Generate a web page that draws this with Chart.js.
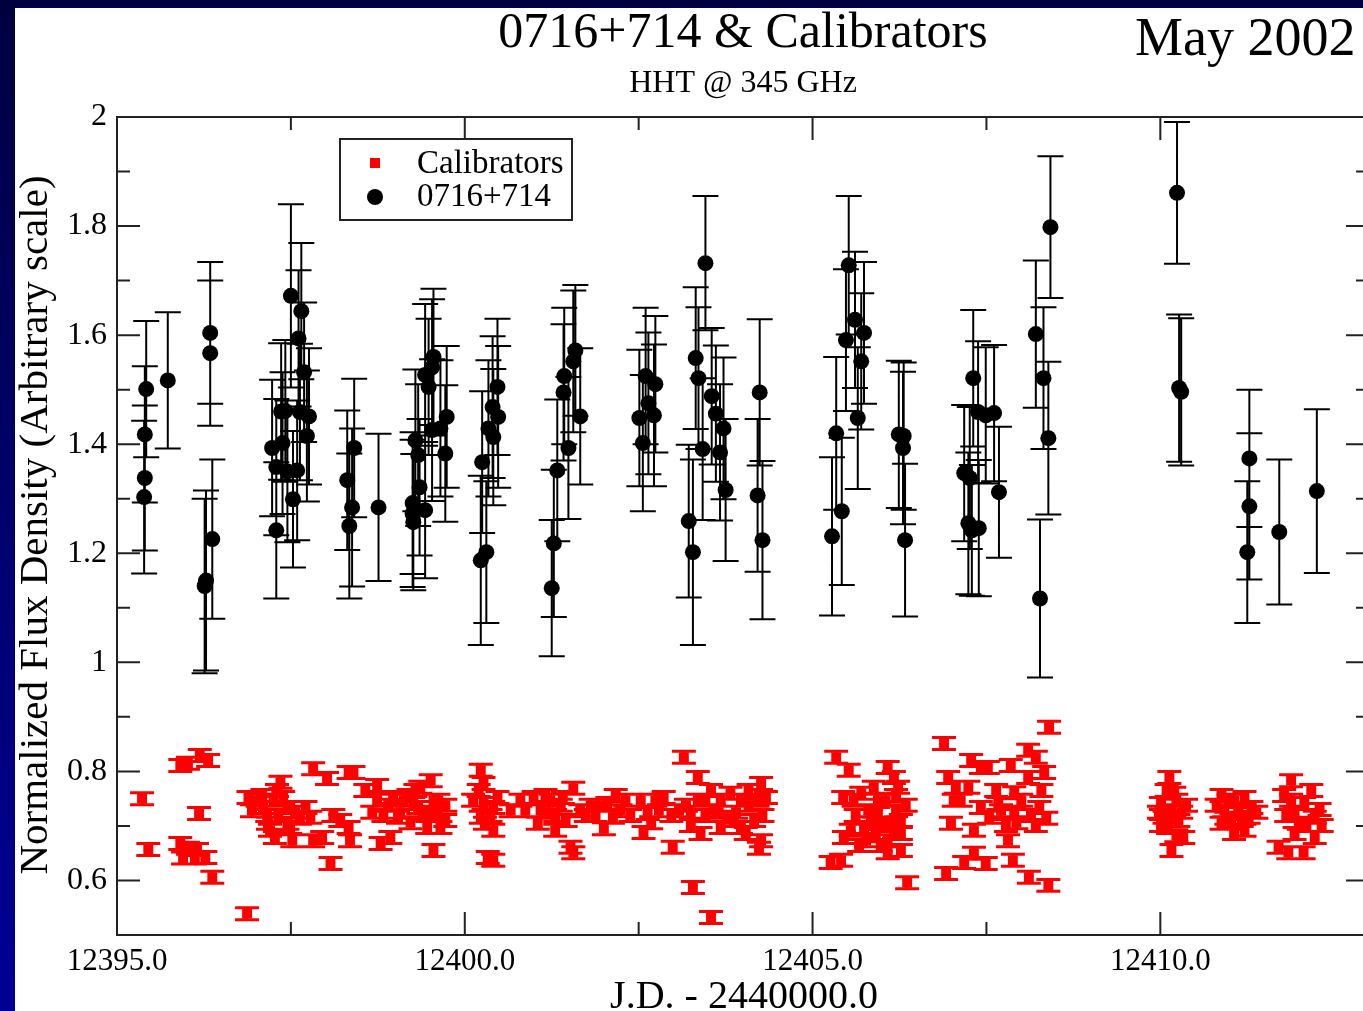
<!DOCTYPE html>
<html>
<head>
<meta charset="utf-8">
<title>0716+714 & Calibrators</title>
<script src="https://cdn.jsdelivr.net/npm/chart.js@4.4.1/dist/chart.umd.min.js"></script>
<style>
    html, body { margin: 0; padding: 0; width: 1363px; height: 1011px; overflow: hidden; }
    body { background: linear-gradient(180deg, #000040 0%, #000096 100%); position: relative; }
    #papel { position: absolute; left: 15px; top: 8px; width: 1360px; height: 1010px; background: #fff; }
    #caixa { position: absolute; left: 0; top: 0; width: 1377px; height: 1011px; }
</style>
</head>
<body>
<div id="papel"></div>
<div id="caixa"><canvas id="grafico" width="1377" height="1011"></canvas></div>
<script>
// 0716+714 : J.D. - 2440000.0, fluxo normalizado e erro
const fonteJD = [
    12395.42, 12395.40, 12395.40, 12395.39, 12395.73,
    12396.34, 12396.34, 12396.28, 12396.26, 12396.37,
    12397.50, 12397.65, 12397.61, 12397.69, 12397.36, 12397.42, 12397.63, 12397.76, 12397.73, 12397.23, 12397.38, 12397.29, 12397.45, 12397.59, 12397.53, 12397.29,
    12398.31, 12398.41, 12398.38, 12398.34, 12398.76,
    12399.55, 12399.53, 12399.43, 12399.48, 12399.74, 12399.65, 12399.53, 12399.29, 12399.72, 12399.33, 12399.35, 12399.25, 12399.43, 12399.25, 12399.26,
    12400.47, 12400.40, 12400.48, 12400.34, 12400.41, 12400.25, 12400.23, 12400.31,
    12401.25, 12401.28, 12401.33, 12401.42, 12401.43, 12401.56, 12401.59, 12401.66, 12401.49,
    12402.60, 12402.74, 12402.64, 12402.51, 12402.72, 12402.56,
    12403.46, 12403.32, 12403.36, 12403.55, 12403.61, 12403.72, 12403.42, 12403.67, 12403.75, 12403.22, 12403.28,
    12404.24, 12404.21, 12404.28,
    12405.52, 12405.61, 12405.74, 12405.48, 12405.70, 12405.65, 12405.34, 12405.42, 12405.28,
    12406.24, 12406.31, 12406.30, 12406.33,
    12407.31, 12407.38, 12407.49, 12407.61, 12407.68, 12407.18, 12407.26, 12407.24, 12407.39, 12407.29,
    12408.21, 12408.42, 12408.32, 12408.39, 12408.27,
    12410.24, 12410.27, 12410.30,
    12411.28, 12411.28, 12411.25, 12411.71, 12412.25
];
const fonteFluxo = [
    1.501, 1.418, 1.338, 1.303, 1.517,
    1.604, 1.567, 1.150, 1.140, 1.226,
    1.672, 1.644, 1.594, 1.532, 1.460, 1.461, 1.459, 1.451, 1.415, 1.393, 1.402, 1.358, 1.350, 1.352, 1.299, 1.242,
    1.334, 1.393, 1.284, 1.250, 1.284,
    1.560, 1.541, 1.527, 1.505, 1.450, 1.429, 1.426, 1.407, 1.383, 1.380, 1.321, 1.292, 1.279, 1.273, 1.257,
    1.505, 1.468, 1.450, 1.429, 1.413, 1.367, 1.187, 1.202,
    1.136, 1.218, 1.352, 1.495, 1.525, 1.552, 1.572, 1.451, 1.393,
    1.525, 1.510, 1.475, 1.448, 1.453, 1.402,
    1.732, 1.558, 1.521, 1.488, 1.456, 1.429, 1.391, 1.385, 1.316, 1.259, 1.202,
    1.495, 1.306, 1.224,
    1.728, 1.628, 1.604, 1.591, 1.552, 1.448, 1.420, 1.277, 1.231,
    1.418, 1.415, 1.393, 1.224,
    1.521, 1.459, 1.453, 1.457, 1.312, 1.347, 1.338, 1.255, 1.246, 1.242,
    1.602, 1.798, 1.521, 1.411, 1.117,
    1.861, 1.503, 1.496,
    1.374, 1.286, 1.202, 1.239, 1.314
];
const fonteErro = [
    0.125, 0.125, 0.133, 0.140, 0.125,
    0.130, 0.133, 0.165, 0.160, 0.146,
    0.168, 0.125, 0.125, 0.128, 0.125, 0.130, 0.125, 0.125, 0.120, 0.125, 0.130, 0.125, 0.130, 0.128, 0.125, 0.125,
    0.128, 0.127, 0.145, 0.133, 0.135,
    0.125, 0.125, 0.130, 0.125, 0.130, 0.125, 0.130, 0.130, 0.125, 0.130, 0.125, 0.130, 0.125, 0.135, 0.125,
    0.125, 0.130, 0.130, 0.125, 0.125, 0.130, 0.155, 0.130,
    0.125, 0.135, 0.130, 0.125, 0.125, 0.130, 0.120, 0.125, 0.130,
    0.125, 0.125, 0.130, 0.125, 0.130, 0.125,
    0.123, 0.130, 0.130, 0.125, 0.125, 0.130, 0.130, 0.125, 0.130, 0.140, 0.170,
    0.134, 0.140, 0.145,
    0.127, 0.125, 0.130, 0.130, 0.125, 0.130, 0.140, 0.135, 0.145,
    0.135, 0.135, 0.140, 0.140,
    0.125, 0.130, 0.125, 0.125, 0.120, 0.125, 0.130, 0.130, 0.125, 0.120,
    0.135, 0.130, 0.130, 0.140, 0.145,
    0.130, 0.135, 0.135,
    0.126, 0.134, 0.130, 0.133, 0.150
];

// calibradores
const calibJD = [
    12395.36, 12395.45, 12395.91, 12396.02, 12396.19, 12396.31, 12396.18, 12395.91, 12396.02, 12396.15,
    12395.95, 12396.12, 12396.27, 12396.37, 12396.87, 12396.89, 12397.02, 12396.94, 12397.10, 12397.35,
    12397.30, 12397.25, 12397.16, 12397.32, 12397.45, 12397.45, 12397.20, 12397.27, 12397.52, 12397.71,
    12397.63, 12397.78, 12397.82, 12397.95, 12398.07, 12397.82, 12398.02, 12398.33, 12398.40, 12398.11,
    12398.21, 12398.33, 12398.35, 12398.74, 12398.74, 12398.83, 12398.79, 12398.93, 12398.97, 12399.12,
    12399.26, 12399.36, 12399.51, 12399.55, 12399.40, 12399.61, 12399.46, 12399.65, 12399.55, 12398.57,
    12399.07, 12399.22, 12399.72, 12399.29, 12400.23, 12400.27, 12400.12, 12400.27, 12400.41, 12400.23,
    12400.41, 12400.33, 12400.41, 12400.66, 12400.80, 12400.99, 12401.09, 12401.05, 12401.16, 12401.23,
    12401.30, 12401.38, 12401.45, 12401.30, 12401.56, 12401.52, 12401.56, 12401.66, 12401.81, 12401.88,
    12402.05, 12402.13, 12402.00, 12402.24, 12402.31, 12402.53, 12402.63, 12402.57, 12402.68, 12402.86,
    12402.79, 12402.97, 12402.99, 12403.15, 12403.18, 12403.35, 12403.35, 12403.25, 12403.39, 12403.28,
    12403.54, 12403.54, 12403.58, 12403.46, 12403.68, 12403.68, 12403.82, 12403.78, 12403.90, 12403.97,
    12403.97, 12404.08, 12404.04, 12404.26, 12404.21, 12404.16, 12404.26, 12404.23, 12405.34, 12405.52,
    12405.44, 12405.26, 12405.41, 12405.45, 12405.55, 12405.62, 12405.70, 12405.80, 12405.74, 12405.77,
    12405.88, 12405.94, 12405.94, 12405.88, 12405.98, 12406.05, 12406.08, 12406.17, 12406.23, 12406.20,
    12406.27, 12406.13, 12406.17, 12406.27, 12406.08, 12406.08, 12406.36, 12406.89, 12406.95, 12407.06,
    12407.03, 12407.13, 12406.99, 12406.92, 12407.18, 12407.24, 12407.28, 12407.32, 12407.32, 12407.42,
    12407.42, 12407.49, 12407.52, 12407.54, 12407.64, 12407.67, 12407.71, 12407.78, 12407.81, 12407.85,
    12407.88, 12407.90, 12407.90, 12407.93, 12408.00, 12408.10, 12408.10, 12408.11, 12408.14, 12408.21,
    12408.21, 12408.26, 12408.29, 12408.33, 12408.36, 12408.39, 12408.40, 12410.01, 12410.01, 12410.06,
    12410.11, 12410.13, 12410.16, 12410.16, 12410.20, 12410.23, 12410.26, 12410.30, 12410.33, 12410.88,
    12410.88, 12410.92, 12410.95, 12411.02, 12411.06, 12411.06, 12411.12, 12411.21, 12411.21, 12411.27,
    12411.31, 12411.70, 12411.84, 12411.88, 12411.88, 12411.93, 12411.93, 12411.99, 12412.06, 12412.07,
    12412.17, 12412.22, 12412.22,
    12397.09, 12397.39, 12397.56, 12397.17, 12397.49, 12398.67, 12398.90, 12399.04, 12399.19, 12399.33,
    12399.48, 12399.62, 12399.72, 12400.20, 12400.37, 12400.47, 12400.29, 12400.87, 12401.20, 12401.41,
    12401.74, 12401.92, 12402.17, 12402.38, 12402.74, 12403.08, 12403.46, 12403.65, 12403.87, 12404.08,
    12404.28, 12404.33, 12403.25, 12405.59, 12405.84, 12406.01, 12406.20, 12406.34, 12405.67, 12405.91,
    12406.27, 12410.09, 12410.23, 12410.37, 12409.98, 12410.81, 12411.17, 12411.38, 12410.98, 12411.78,
    12412.10, 12412.29, 12411.81, 12412.32
];
const calibFluxo = [
    0.750, 0.657, 0.811, 0.815, 0.829, 0.820, 0.723, 0.668, 0.659, 0.657,
    0.641, 0.641, 0.642, 0.606, 0.539, 0.752, 0.747, 0.728, 0.734, 0.780,
    0.765, 0.747, 0.719, 0.719, 0.734, 0.705, 0.692, 0.679, 0.673, 0.734,
    0.714, 0.716, 0.673, 0.679, 0.631, 0.805, 0.787, 0.798, 0.798, 0.719,
    0.710, 0.697, 0.673, 0.774, 0.747, 0.719, 0.668, 0.679, 0.752, 0.747,
    0.741, 0.771, 0.783, 0.747, 0.723, 0.723, 0.697, 0.697, 0.655, 0.765,
    0.725, 0.706, 0.738, 0.765, 0.802, 0.778, 0.747, 0.741, 0.734, 0.716,
    0.692, 0.642, 0.637, 0.728, 0.747, 0.752, 0.728, 0.705, 0.756, 0.747,
    0.719, 0.738, 0.710, 0.692, 0.769, 0.661, 0.651, 0.728, 0.738, 0.719,
    0.741, 0.716, 0.695, 0.728, 0.747, 0.747, 0.723, 0.688, 0.706, 0.752,
    0.728, 0.719, 0.661, 0.826, 0.738, 0.789, 0.747, 0.701, 0.686, 0.587,
    0.532, 0.765, 0.728, 0.719, 0.747, 0.697, 0.760, 0.716, 0.725, 0.747,
    0.697, 0.765, 0.686, 0.778, 0.747, 0.710, 0.673, 0.659, 0.826, 0.802,
    0.752, 0.633, 0.637, 0.679, 0.692, 0.719, 0.760, 0.728, 0.697, 0.673,
    0.771, 0.747, 0.723, 0.705, 0.664, 0.747, 0.807, 0.789, 0.771, 0.728,
    0.710, 0.705, 0.688, 0.686, 0.673, 0.651, 0.596, 0.851, 0.789, 0.771,
    0.747, 0.747, 0.705, 0.613, 0.633, 0.771, 0.820, 0.692, 0.650, 0.807,
    0.734, 0.631, 0.807, 0.716, 0.765, 0.741, 0.728, 0.701, 0.673, 0.811,
    0.637, 0.761, 0.723, 0.706, 0.747, 0.839, 0.789, 0.606, 0.719, 0.826,
    0.701, 0.734, 0.765, 0.798, 0.714, 0.591, 0.881, 0.741, 0.701, 0.716,
    0.697, 0.789, 0.728, 0.655, 0.760, 0.747, 0.710, 0.725, 0.679, 0.756,
    0.705, 0.728, 0.714, 0.705, 0.747, 0.686, 0.723, 0.752, 0.692, 0.716,
    0.734, 0.661, 0.651, 0.783, 0.747, 0.723, 0.686, 0.705, 0.651, 0.741,
    0.765, 0.716, 0.679,
    0.756, 0.752, 0.725, 0.705, 0.697, 0.725, 0.738, 0.716, 0.756, 0.734,
    0.719, 0.747, 0.710, 0.765, 0.719, 0.752, 0.705, 0.728, 0.725, 0.752,
    0.719, 0.738, 0.756, 0.719, 0.747, 0.728, 0.747, 0.725, 0.710, 0.738,
    0.719, 0.752, 0.725, 0.747, 0.719, 0.701, 0.756, 0.738, 0.664, 0.682,
    0.655, 0.765, 0.682, 0.738, 0.725, 0.738, 0.710, 0.725, 0.747, 0.756,
    0.701, 0.730, 0.719, 0.701
];
const calibErro = 0.011;

const eixoX = { min: 12395, max: 12413, passo: 2.5, rotulo: 5 };
const eixoY = { min: 0.5, max: 2, passo: 0.1, rotulo: 0.2 };

const titulo = '0716+714 & Calibrators';
const subtitulo = 'HHT @ 345 GHz';
const data = 'May 2002';
const tituloX = 'J.D. - 2440000.0';
const tituloY = 'Normalized Flux Density (Arbitrary scale)';

const serif = '"Liberation Serif", "Times New Roman", serif';

function ehMultiplo(v, m) {
    return Math.abs(v / m - Math.round(v / m)) < 1e-6;
}

// barras de erro verticais com traco horizontal
const barrasErro = {
    id: 'barrasErro',
    beforeDatasetsDraw(chart) {
        const ctx = chart.ctx;
        const x = chart.scales.x, y = chart.scales.y;
        chart.data.datasets.forEach(ds => {
            ctx.save();
            ctx.strokeStyle = ds.borderColor;
            ctx.lineWidth = ds.larguraBarra;
            ctx.beginPath();
            ds.data.forEach((p, i) => {
                const e = Array.isArray(ds.erros) ? ds.erros[i] : ds.erros;
                const px = x.getPixelForValue(p.x);
                const y1 = y.getPixelForValue(p.y + e);
                const y2 = y.getPixelForValue(p.y - e);
                const c = ds.meioTraco;
                ctx.moveTo(px, y1); ctx.lineTo(px, y2);
                ctx.moveTo(px - c, y1); ctx.lineTo(px + c, y1);
                ctx.moveTo(px - c, y2); ctx.lineTo(px + c, y2);
            });
            ctx.stroke();
            ctx.restore();
        });
    }
};

// moldura e ticks para dentro nos quatro lados
const moldura = {
    id: 'moldura',
    afterDatasetsDraw(chart) {
        const ctx = chart.ctx;
        const a = chart.chartArea;
        const x = chart.scales.x, y = chart.scales.y;
        ctx.save();
        ctx.strokeStyle = '#222';
        ctx.lineWidth = 2;
        ctx.strokeRect(a.left, a.top, a.right - a.left, a.bottom - a.top);
        ctx.beginPath();
        x.ticks.forEach(t => {
            if (t.value <= eixoX.min || t.value >= eixoX.max) return;
            const px = x.getPixelForValue(t.value);
            const len = ehMultiplo(t.value, eixoX.rotulo) ? 23 : 13;
            ctx.moveTo(px, a.bottom); ctx.lineTo(px, a.bottom - len);
            ctx.moveTo(px, a.top); ctx.lineTo(px, a.top + len);
        });
        y.ticks.forEach(t => {
            if (t.value <= eixoY.min || t.value >= eixoY.max) return;
            const py = y.getPixelForValue(t.value);
            const len = ehMultiplo(t.value, eixoY.rotulo) ? 23 : 13;
            ctx.moveTo(a.left, py); ctx.lineTo(a.left + len, py);
            ctx.moveTo(a.right, py); ctx.lineTo(a.right - len, py);
        });
        ctx.stroke();
        ctx.restore();
    }
};

// titulos, legenda e data
const textos = {
    id: 'textos',
    afterDraw(chart) {
        const ctx = chart.ctx;
        const a = chart.chartArea;
        ctx.save();
        ctx.fillStyle = '#000';
        ctx.textBaseline = 'alphabetic';
        ctx.textAlign = 'center';
        ctx.font = '50px ' + serif;
        ctx.fillText(titulo, (a.left + a.right) / 2, 47);
        ctx.font = '32px ' + serif;
        ctx.fillText(subtitulo, (a.left + a.right) / 2, 92);
        ctx.font = '40px ' + serif;
        ctx.fillText(tituloX, 744, 1008);
        ctx.textAlign = 'left';
        ctx.font = '54px ' + serif;
        ctx.fillText(data, 1135, 55);

        ctx.save();
        ctx.translate(47, 525);
        ctx.rotate(-Math.PI / 2);
        ctx.textAlign = 'center';
        ctx.font = '41px ' + serif;
        ctx.fillText(tituloY, 0, 0);
        ctx.restore();

        // legenda
        ctx.strokeStyle = '#222';
        ctx.lineWidth = 2;
        ctx.strokeRect(340, 139, 232, 81);
        const ds = chart.data.datasets;
        ctx.fillStyle = ds[0].backgroundColor;
        ctx.fillRect(370, 158, 10, 10);
        ctx.fillStyle = ds[1].backgroundColor;
        ctx.beginPath();
        ctx.arc(375, 197, 8, 0, Math.PI * 2);
        ctx.fill();
        ctx.fillStyle = '#000';
        ctx.textBaseline = 'middle';
        ctx.font = '33px ' + serif;
        ctx.fillText(ds[0].label, 417, 164);
        ctx.fillText(ds[1].label, 417, 197);
        ctx.restore();
    }
};

let meuGrafico;

function criaGrafico() {
    const ctx = document.getElementById('grafico').getContext('2d');
    if (meuGrafico) {
        meuGrafico.destroy();
    }
    meuGrafico = new Chart(ctx, {
        type: 'scatter',
        data: {
            datasets: [{
                label: 'Calibrators',
                data: calibJD.map((v, i) => ({ x: v, y: calibFluxo[i] })),
                erros: calibErro,
                pointStyle: 'rect',
                pointRadius: 7,
                pointHoverRadius: 7,
                borderWidth: 0,
                backgroundColor: '#ff0000',
                borderColor: '#ff0000',
                larguraBarra: 3,
                meioTraco: 12
            },
            {
                label: '0716+714',
                data: fonteJD.map((v, i) => ({ x: v, y: fonteFluxo[i] })),
                erros: fonteErro,
                pointStyle: 'circle',
                pointRadius: 8,
                pointHoverRadius: 8,
                borderWidth: 0,
                backgroundColor: '#000000',
                borderColor: '#000000',
                larguraBarra: 2,
                meioTraco: 13
            }]
        },
        options: {
            responsive: false,
            animation: false,
            events: [],
            layout: {
                padding: { top: 117, right: 3, bottom: 0, left: 0 }
            },
            plugins: {
                legend: { display: false },
                title: { display: false },
                tooltip: { enabled: false }
            },
            scales: {
                x: {
                    type: 'linear',
                    min: eixoX.min,
                    max: eixoX.max,
                    grid: { display: false, drawTicks: false },
                    border: { display: false },
                    ticks: {
                        stepSize: eixoX.passo,
                        autoSkip: false,
                        maxRotation: 0,
                        padding: 8,
                        color: '#000',
                        font: { family: serif, size: 31 },
                        callback: v => ehMultiplo(v, eixoX.rotulo) ? v.toFixed(1) : ''
                    },
                    afterFit: scale => { scale.height = 76; }
                },
                y: {
                    type: 'linear',
                    min: eixoY.min,
                    max: eixoY.max,
                    grid: { display: false, drawTicks: false },
                    border: { display: false },
                    ticks: {
                        stepSize: eixoY.passo,
                        autoSkip: false,
                        padding: 10,
                        color: '#000',
                        font: { family: serif, size: 32 },
                        callback: v => ehMultiplo(v, eixoY.rotulo) ? String(Math.round(v * 10) / 10) : ''
                    },
                    afterFit: scale => { scale.width = 117; }
                }
            }
        },
        plugins: [barrasErro, moldura, textos]
    });
}

criaGrafico();
</script>
</body>
</html>
